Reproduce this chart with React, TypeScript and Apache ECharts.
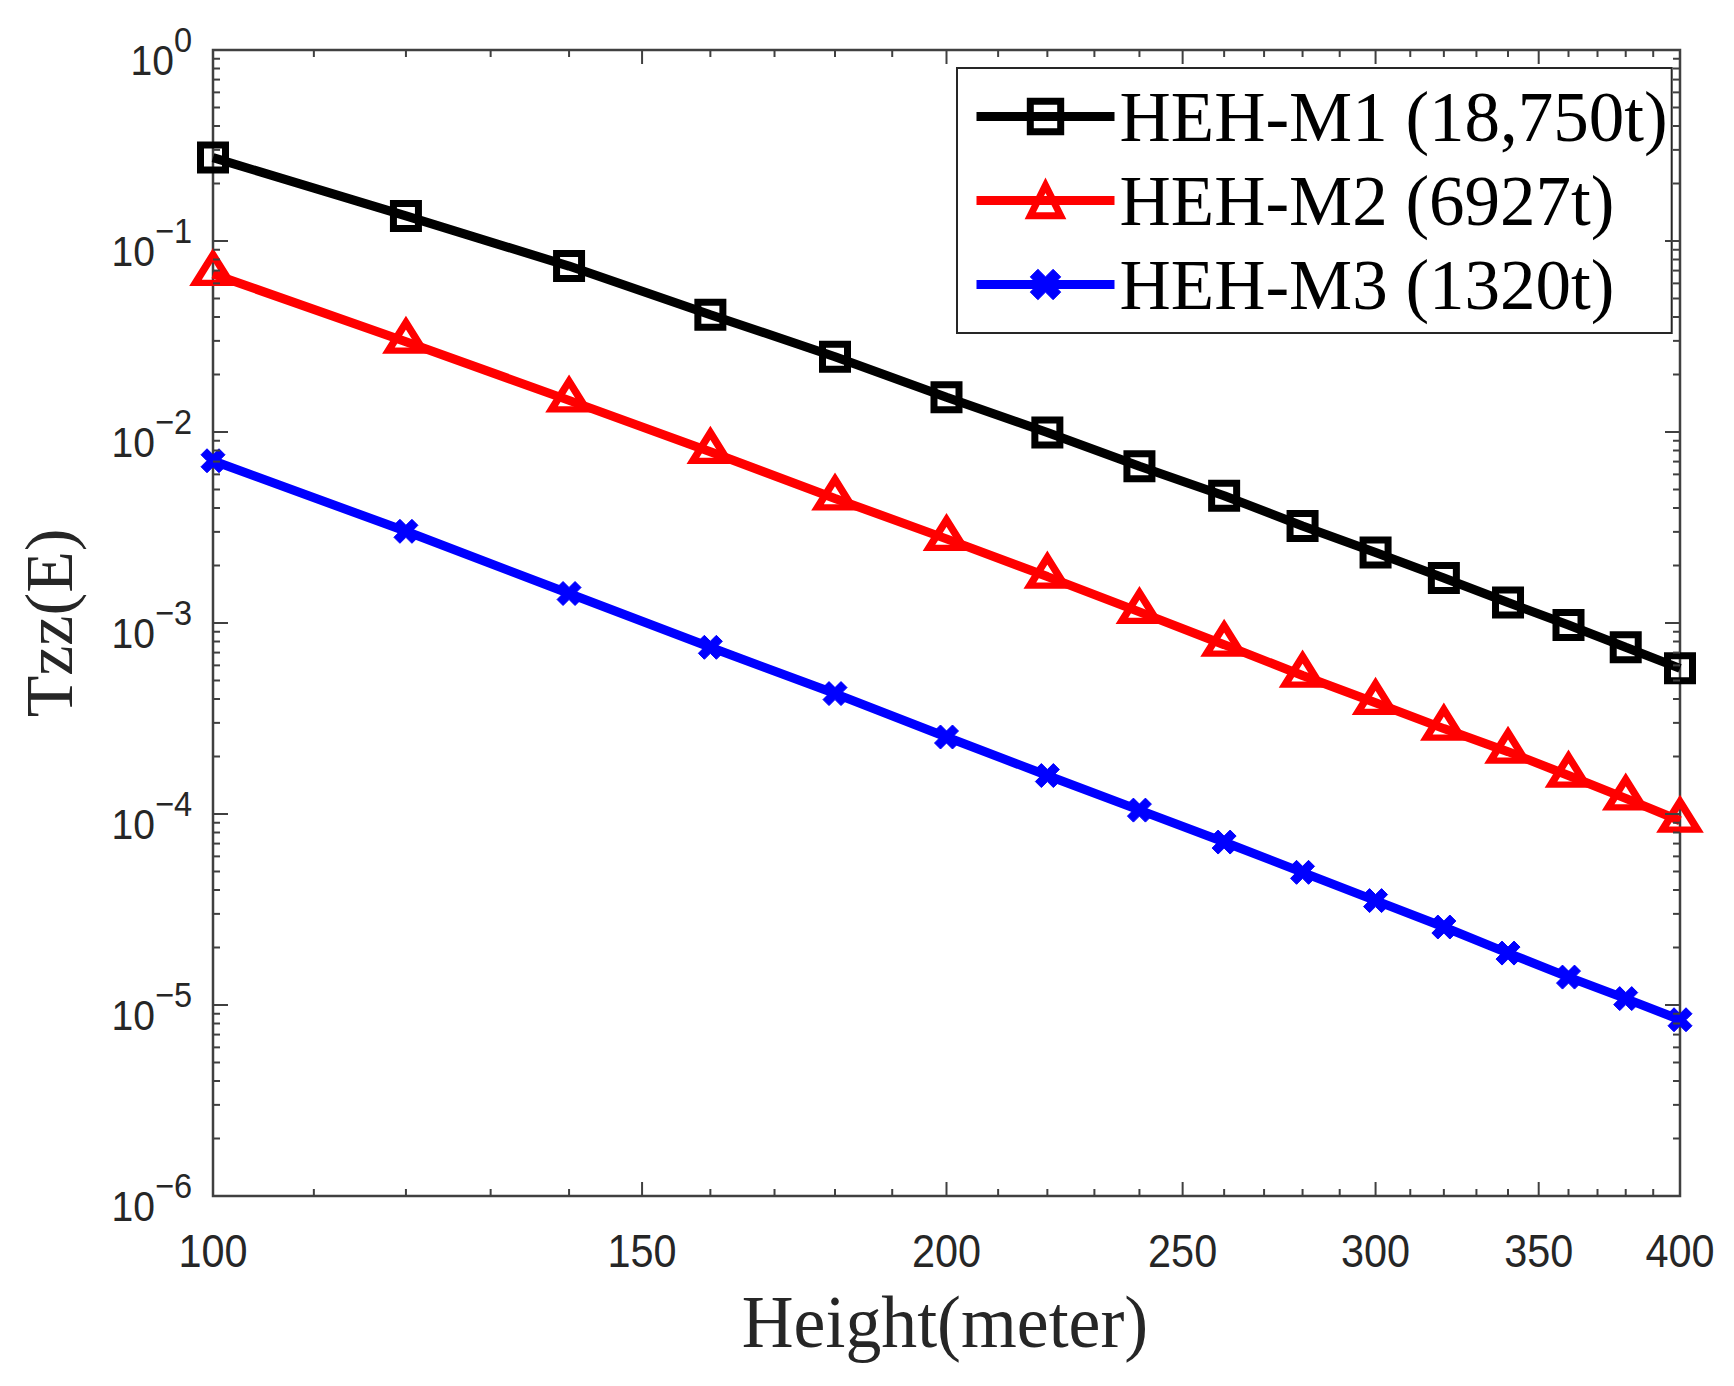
import React, { useEffect, useRef } from "react";
import * as echarts from "echarts";

// ---------- data ----------
const HEIGHTS = [100, 120, 140, 160, 180, 200, 220, 240, 260, 280, 300, 320, 340, 360, 380, 400];
const M1_VALUES = [0.2733, 0.1353, 0.0739, 0.0411, 0.0248, 0.01522, 0.00993, 0.00661, 0.00464, 0.00322, 0.00234, 0.00172, 0.00128, 0.000976, 0.000746, 0.000579];
const M2_VALUES = [0.0672, 0.0297, 0.01464, 0.00788, 0.00449, 0.002757, 0.00175, 0.001143, 0.00077, 0.000531, 0.000382, 0.00028, 0.000212, 0.000159, 0.0001207, 0.0000922];
const M3_VALUES = [0.00707, 0.00302, 0.001427, 0.000746, 0.000427, 0.000253, 0.000159, 0.0001048, 0.0000713, 0.0000495, 0.0000352, 0.0000256, 0.0000187, 0.000014, 0.0000108, 0.00000837];
const SERIES_NAMES = ["HEH-M1 (18,750t)", "HEH-M2 (6927t)", "HEH-M3 (1320t)"];

const X_MIN = 100;
const X_MAX = 400;
const Y_MIN = 1e-6;
const Y_MAX = 1;
const X_MAJOR_TICKS = [100, 150, 200, 250, 300, 350, 400];
const X_MINOR_TICKS = [110, 120, 130, 140, 160, 170, 180, 190, 210, 220, 230, 240, 260, 270, 280, 290, 310, 320, 330, 340, 360, 370, 380, 390];
const Y_DECADES = [-6, -5, -4, -3, -2, -1, 0];
const Y_MINOR_MULTS = [2, 3, 4, 5, 6, 7, 8, 9];

const X_TITLE = "Height(meter)";
const Y_TITLE = "Tzz(E)";

// ---------- styles ----------
const AXIS_COLOR = "#404040";
const LABEL_COLOR = "#262626";
const SANS = "'Liberation Sans', Arial, Helvetica, sans-serif";
const SERIF = "'Liberation Serif', 'Times New Roman', Times, serif";
const LINE_W = 9;
const MARK_W = 7;
const X_MARKER = "path://M2.5,0L5,2.5L7.5,0L10,2.5L7.5,5L10,7.5L7.5,10L5,7.5L2.5,10L0,7.5L2.5,5L0,2.5Z";

export default function App() {
  const ref = useRef<HTMLDivElement | null>(null);

  useEffect(() => {
    document.body.style.margin = "0";
    if (!ref.current) return;
    const chart = echarts.init(ref.current, undefined, { renderer: "svg" });

    const xTickData = [
      ...X_MAJOR_TICKS.map((v) => [v, Y_MIN, 1]),
      ...X_MINOR_TICKS.map((v) => [v, Y_MIN, 0]),
    ];
    const yTickData: number[][] = [];
    Y_DECADES.forEach((k) => {
      yTickData.push([X_MIN, Math.pow(10, k), 1]);
      if (k < 0) {
        Y_MINOR_MULTS.forEach((m) => yTickData.push([X_MIN, m * Math.pow(10, k), 0]));
      }
    });

    const xTickSeries = {
      type: "custom",
      silent: true,
      clip: false,
      z: 10,
      data: xTickData,
      renderItem: (_params: any, api: any) => {
        const v = api.value(0);
        const major = api.value(2) === 1;
        const b = api.coord([v, Y_MIN]);
        const t = api.coord([v, Y_MAX]);
        const len = major ? 14 : 7;
        const st = { stroke: AXIS_COLOR, lineWidth: 2 };
        const children: any[] = [
          { type: "line", shape: { x1: b[0], y1: b[1], x2: b[0], y2: b[1] - len }, style: st },
          { type: "line", shape: { x1: t[0], y1: t[1], x2: t[0], y2: t[1] + len }, style: st },
        ];
        if (major) {
          children.push({
            type: "text",
            x: b[0],
            y: b[1] + 55,
            scaleX: 0.9,
            style: {
              text: String(v),
              fill: LABEL_COLOR,
              fontSize: 46,
              fontFamily: SANS,
              align: "center",
              verticalAlign: "middle",
            },
          });
        }
        return { type: "group", children };
      },
    };

    const yTickSeries = {
      type: "custom",
      silent: true,
      clip: false,
      z: 10,
      data: yTickData,
      renderItem: (_params: any, api: any) => {
        const v = api.value(1);
        const major = api.value(2) === 1;
        const l = api.coord([X_MIN, v]);
        const r = api.coord([X_MAX, v]);
        const len = major ? 15 : 7;
        const st = { stroke: AXIS_COLOR, lineWidth: 2 };
        const children: any[] = [
          { type: "line", shape: { x1: l[0], y1: l[1], x2: l[0] + len, y2: l[1] }, style: st },
          { type: "line", shape: { x1: r[0], y1: r[1], x2: r[0] - len, y2: r[1] }, style: st },
        ];
        if (major) {
          const e = Math.round(Math.log10(v));
          const expText = e < 0 ? "\u2212" + String(-e) : String(e);
          children.push({
            type: "text",
            x: l[0] - 21,
            y: l[1],
            scaleX: 0.93,
            style: {
              text: "{b|10}{s|" + expText + "}",
              fill: LABEL_COLOR,
              align: "right",
              verticalAlign: "middle",
              rich: {
                b: {
                  fontSize: 42,
                  fontFamily: SANS,
                  fill: LABEL_COLOR,
                  lineHeight: 42,
                  padding: [20, 0, 0, 0],
                  verticalAlign: "middle",
                },
                s: {
                  fontSize: 35,
                  fontFamily: SANS,
                  fill: LABEL_COLOR,
                  lineHeight: 36,
                  padding: [3, 0, 23, 0],
                  verticalAlign: "middle",
                },
              },
            },
          });
        }
        return { type: "group", children };
      },
    };

    const toPairs = (vals: number[]) => HEIGHTS.map((h, i) => [h, vals[i]]);

    const option: any = {
      animation: false,
      backgroundColor: "#ffffff",
      textStyle: { fontFamily: SANS },
      grid: {
        left: 213,
        right: 54,
        top: 50,
        bottom: 190,
        show: true,
        borderColor: AXIS_COLOR,
        borderWidth: 2.5,
        backgroundColor: "transparent",
      },
      xAxis: {
        type: "log",
        logBase: 10,
        min: X_MIN,
        max: X_MAX,
        axisLine: { show: false },
        axisTick: { show: false },
        axisLabel: { show: false },
        splitLine: { show: false },
      },
      yAxis: {
        type: "log",
        logBase: 10,
        min: Y_MIN,
        max: Y_MAX,
        axisLine: { show: false },
        axisTick: { show: false },
        axisLabel: { show: false },
        splitLine: { show: false },
      },
      legend: {
        data: [
          { name: SERIES_NAMES[0], itemStyle: { borderWidth: MARK_W } },
          { name: SERIES_NAMES[1], itemStyle: { borderWidth: MARK_W } },
          { name: SERIES_NAMES[2], itemStyle: { borderWidth: 1 } },
        ],
        orient: "vertical",
        left: 957,
        top: 68,
        padding: [13, 4, 13, 15],
        itemGap: 13,
        itemWidth: 138,
        itemHeight: 38,
        backgroundColor: "#ffffff",
        borderColor: "#262626",
        borderWidth: 2,
        borderRadius: 0,
        selectedMode: false,
        lineStyle: { width: LINE_W },
        textStyle: { fontFamily: SERIF, fontSize: 71, color: "#000000" },
      },
      graphic: [
        {
          type: "text",
          x: 49,
          y: 623,
          rotation: Math.PI / 2,
          style: {
            text: Y_TITLE,
            fontFamily: SERIF,
            fontSize: 68,
            fill: LABEL_COLOR,
            align: "center",
            verticalAlign: "middle",
          },
        },
        {
          type: "text",
          x: 945,
          y: 1322,
          scaleX: 0.97,
          style: {
            text: X_TITLE,
            fontFamily: SERIF,
            fontSize: 74,
            fill: LABEL_COLOR,
            align: "center",
            verticalAlign: "middle",
          },
        },
      ],
      series: [
        {
          name: SERIES_NAMES[0],
          type: "line",
          data: toPairs(M1_VALUES),
          symbol: "rect",
          symbolSize: 25,
          lineStyle: { color: "#000000", width: LINE_W },
          itemStyle: { color: "rgba(255,255,255,0)", borderColor: "#000000", borderWidth: MARK_W },
          z: 4,
        },
        {
          name: SERIES_NAMES[1],
          type: "line",
          data: toPairs(M2_VALUES),
          symbol: "triangle",
          symbolSize: [35, 28],
          symbolOffset: [0, -5],
          lineStyle: { color: "#ff0000", width: LINE_W },
          itemStyle: { color: "rgba(255,255,255,0)", borderColor: "#ff0000", borderWidth: MARK_W },
          z: 3,
        },
        {
          name: SERIES_NAMES[2],
          type: "line",
          data: toPairs(M3_VALUES),
          symbol: X_MARKER,
          symbolSize: 24,
          lineStyle: { color: "#0000ff", width: LINE_W },
          itemStyle: { color: "#0000ff", borderColor: "#0000ff", borderWidth: 1 },
          z: 2,
        },
        xTickSeries,
        yTickSeries,
      ],
    };

    chart.setOption(option);
    return () => {
      chart.dispose();
    };
  }, []);

  return <div ref={ref} style={{ width: 1734, height: 1386 }} />;
}
